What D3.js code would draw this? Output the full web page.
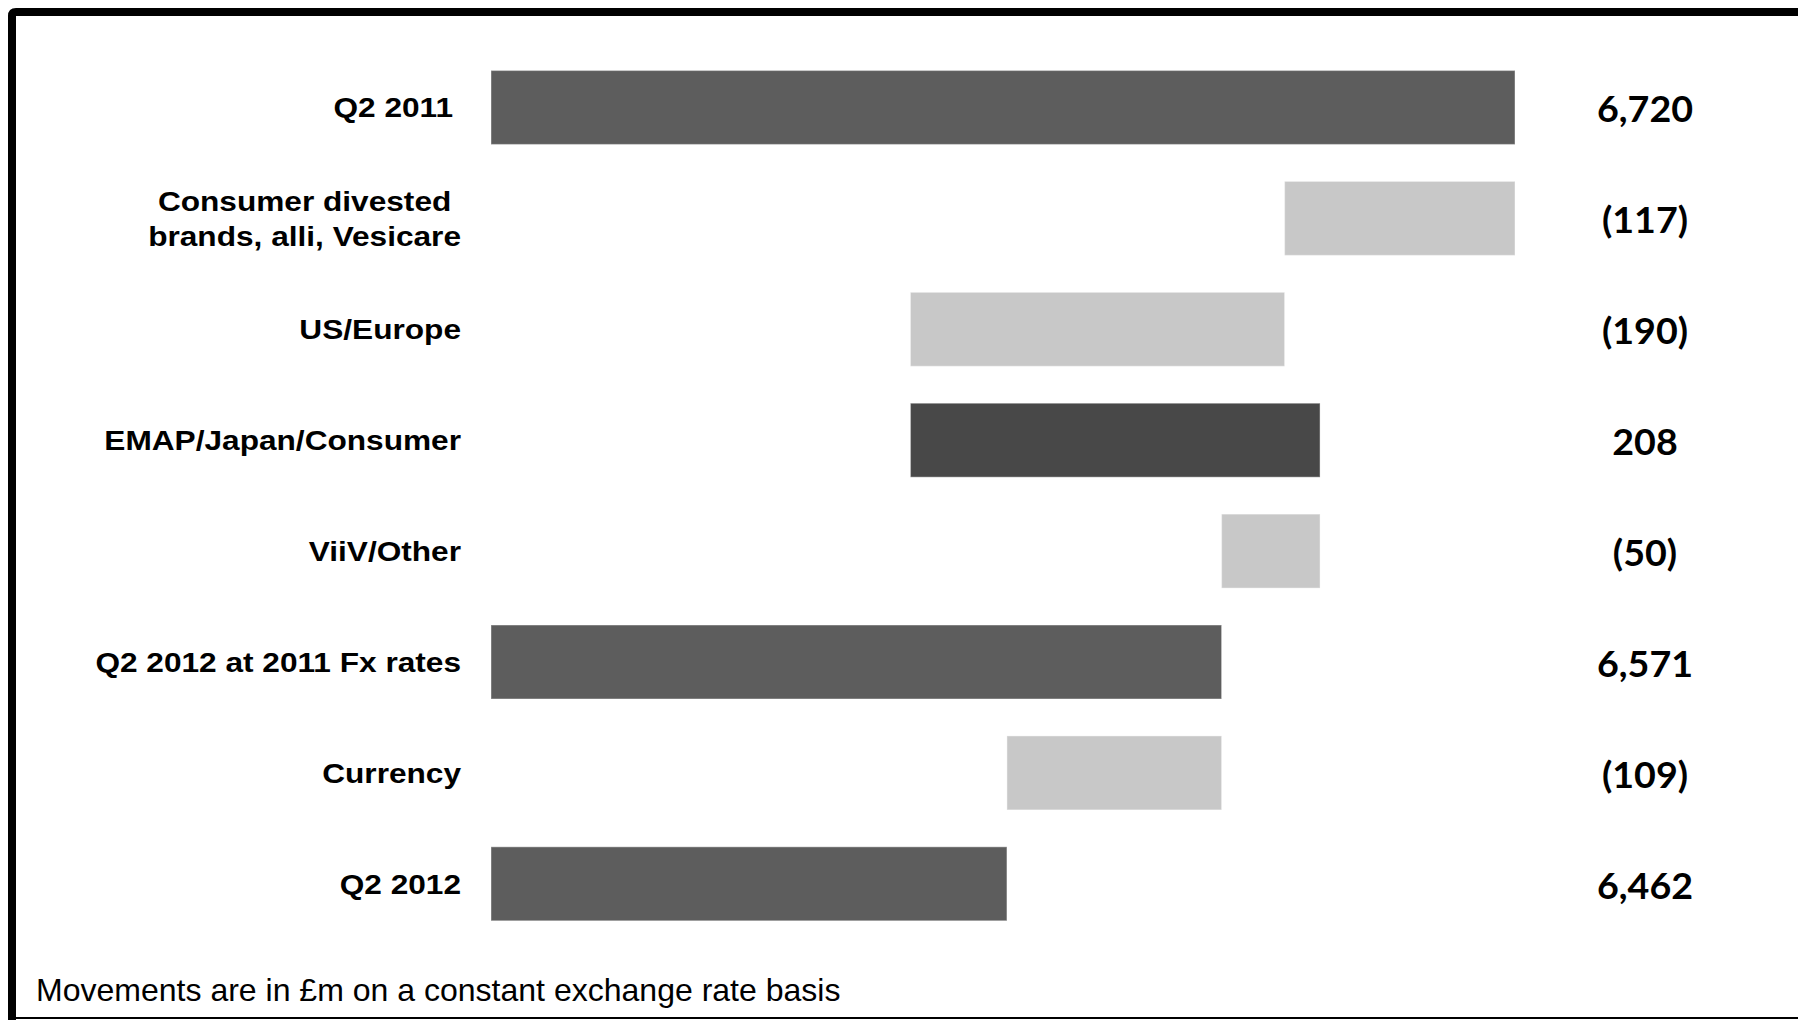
<!DOCTYPE html>
<html>
<head>
<meta charset="utf-8">
<script src="https://cdn.jsdelivr.net/npm/d3@7"></script>
<style>
  html, body { margin: 0; padding: 0; background: #ffffff; }
  svg { display: block; }
</style>
</head>
<body>
<svg id="chart" width="1798" height="1020"></svg>
<script>
// ---- data ----
const categories = [
  "Q2 2011",
  "Consumer divested\nbrands, alli, Vesicare",
  "US/Europe",
  "EMAP/Japan/Consumer",
  "ViiV/Other",
  "Q2 2012 at 2011 Fx rates",
  "Currency",
  "Q2 2012"
];
const values = [6720, -117, -190, 208, -50, 6571, -109, 6462];
const kinds = ["total", "delta", "delta", "delta", "delta", "total", "delta", "total"];
const valueLabels = ["6,720", "(117)", "(190)", "208", "(50)", "6,571", "(109)", "6,462"];
const axisDomain = [6200, 6720];
const footnote = "Movements are in \u00a3m on a constant exchange rate basis";

// ---- layout ----
const W = 1798, H = 1020;
const svg = d3.select("#chart");
svg.append("rect").attr("width", W).attr("height", H).attr("fill", "#ffffff");

const x = d3.scaleLinear().domain(axisDomain).range([491, 1515]);
const y = d3.scaleBand().domain(categories).range([70.5, 920.8]).paddingInner(0.333).paddingOuter(0);

// compute waterfall segments
let running = 0;
const bars = categories.map((c, i) => {
  let x0, x1, fill;
  if (kinds[i] === "total") {
    running = values[i];
    x0 = axisDomain[0]; x1 = values[i];
    fill = "#5d5d5d";
  } else {
    const start = running;
    running = running + values[i];
    x0 = Math.min(start, running); x1 = Math.max(start, running);
    fill = values[i] >= 0 ? "#484848" : "#c8c8c8";
  }
  return { cat: c, x0, x1, fill, label: valueLabels[i] };
});

// frame
svg.append("path")
  .attr("d", `M${W},12 L16,12 Q12,12 12,16 L12,${H}`)
  .attr("fill", "none").attr("stroke", "#000").attr("stroke-width", 8);
svg.append("line")
  .attr("x1", 12).attr("x2", W).attr("y1", 1018).attr("y2", 1018)
  .attr("stroke", "#000").attr("stroke-width", 2);

// bars
svg.append("g").selectAll("rect").data(bars).join("rect")
  .attr("x", d => x(d.x0))
  .attr("width", d => x(d.x1) - x(d.x0))
  .attr("y", d => y(d.cat))
  .attr("height", y.bandwidth())
  .attr("fill", d => d.fill)
  .attr("stroke", "rgba(255,255,255,0.35)")
  .attr("stroke-width", 1.2);

// category labels
const labelRight = 461;
const labelNudge = { "Q2 2011": -8 };
const lineGap = 35.5;
const catG = svg.append("g")
  .attr("font-family", "'Liberation Sans', Arial, sans-serif")
  .attr("font-weight", "bold")
  .attr("font-size", 27.5)
  .attr("fill", "#000");

categories.forEach(c => {
  const lines = c.split("\n");
  const cy = y(c) + y.bandwidth() / 2;
  const gx = labelRight + (labelNudge[c] || 0);
  const g = catG.append("g");
  const texts = lines.map((ln, k) => {
    const base = cy + 10 + (k - (lines.length - 1) / 2) * lineGap;
    const t = g.append("text")
      .attr("text-anchor", "end")
      .attr("transform", `translate(${gx},${base}) scale(1.15,1)`)
      .text(ln);
    return { t, base };
  });
  if (texts.length > 1) {
    const widths = texts.map(o => o.t.node().getComputedTextLength() * 1.15);
    const maxW = d3.max(widths);
    texts.forEach((o, k) => {
      const shift = (maxW - widths[k]) / 2;
      o.t.attr("transform", `translate(${gx - shift},${o.base}) scale(1.15,1)`);
    });
  }
});

// value labels
svg.append("g")
  .attr("font-family", "Lato, 'Open Sans', sans-serif")
  .attr("font-weight", "bold")
  .attr("font-size", 35.5)
  .attr("fill", "#000")
  .selectAll("text").data(bars).join("text")
  .attr("text-anchor", "middle")
  .attr("transform", d => `translate(1645,${y(d.cat) + y.bandwidth() / 2 + 15}) scale(1.06,1)`)
  .text(d => d.label);

// footnote
svg.append("text")
  .attr("font-family", "'Liberation Sans', Arial, sans-serif")
  .attr("font-size", 30.5)
  .attr("fill", "#000")
  .attr("transform", "translate(36,1001) scale(1.05,1)")
  .text(footnote);
</script>
</body>
</html>
